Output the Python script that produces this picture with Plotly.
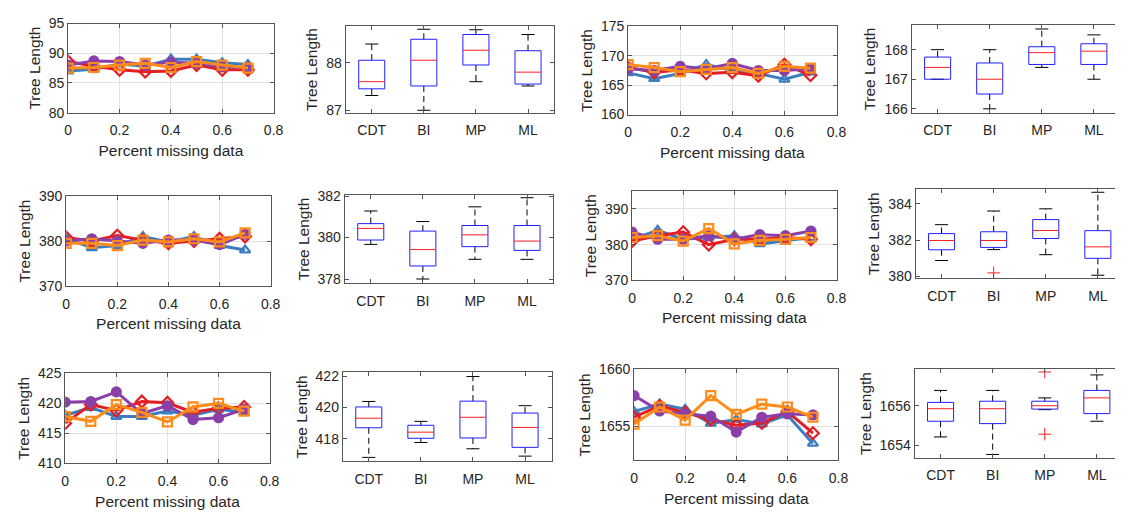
import plotly.graph_objects as go

# ---------------- data ----------------
x_missing = [0, 0.1, 0.2, 0.3, 0.4, 0.5, 0.6, 0.7]
x_ticks = [0, 0.2, 0.4, 0.6, 0.8]
x_ticktext = ["0", "0.2", "0.4", "0.6", "0.8"]
methods = ["CDT", "BI", "MP", "ML"]

# Dataset 1 (row 1, left)
d1_blue = [87.0, 87.3, 88.2, 87.8, 89.0, 89.0, 88.4, 88.1]
d1_red = [88.6, 87.8, 87.2, 86.9, 87.0, 88.0, 87.2, 87.2]
d1_purple = [88.0, 88.7, 88.6, 88.0, 88.5, 88.3, 87.7, 87.6]
d1_orange = [87.5, 87.6, 88.0, 88.3, 87.6, 88.6, 88.0, 87.5]
b1_lower = [87.31, 87.0, 87.60, 87.51]
b1_q1 = [87.45, 87.51, 87.95, 87.55]
b1_med = [87.60, 88.05, 88.26, 87.80]
b1_q3 = [88.05, 88.49, 88.59, 88.25]
b1_upper = [88.39, 88.70, 88.69, 88.59]
b1_out_cat = []
b1_out_val = []

# Dataset 2 (row 1, right)
d2_blue = [167.1, 166.1, 167.0, 168.5, 167.5, 167.0, 166.0, 167.2]
d2_red = [168.0, 167.2, 167.6, 167.0, 167.2, 166.6, 168.5, 166.7]
d2_purple = [167.8, 167.5, 168.2, 167.8, 168.7, 167.5, 167.5, 167.8]
d2_orange = [168.5, 168.0, 167.3, 167.7, 168.0, 167.0, 168.2, 167.9]
b2_lower = [167.0, 166.0, 167.4, 167.0]
b2_q1 = [167.0, 166.5, 167.5, 167.5]
b2_med = [167.4, 167.0, 167.9, 167.95]
b2_q3 = [167.75, 167.55, 168.1, 168.2]
b2_upper = [168.0, 168.0, 168.7, 168.5]
b2_out_cat = []
b2_out_val = []

# Dataset 3 (row 2, left)
d3_blue = [380.5, 378.5, 379.0, 381.0, 379.8, 381.0, 379.0, 378.0]
d3_red = [380.8, 380.0, 381.2, 380.2, 379.5, 380.0, 380.5, 381.0]
d3_purple = [380.0, 380.5, 380.0, 379.5, 380.2, 380.2, 379.2, 381.5]
d3_orange = [379.5, 379.5, 379.0, 380.2, 379.8, 380.5, 379.8, 381.8]
b3_lower = [379.67, 378.0, 378.95, 378.95]
b3_q1 = [379.88, 378.63, 379.56, 379.38]
b3_med = [380.44, 379.42, 380.13, 379.83]
b3_q3 = [380.67, 380.31, 380.58, 380.58]
b3_upper = [381.28, 380.77, 381.48, 381.92]
b3_out_cat = []
b3_out_val = []

# Dataset 4 (row 2, right)
d4_blue = [381.5, 384.0, 381.5, 382.0, 382.5, 380.2, 381.0, 382.0]
d4_red = [381.0, 382.5, 383.5, 380.0, 381.5, 381.5, 382.0, 381.5]
d4_purple = [383.5, 381.5, 381.5, 382.5, 381.5, 382.8, 382.5, 383.8]
d4_orange = [382.0, 382.5, 381.0, 384.5, 380.2, 381.2, 381.5, 382.0]
b4_lower = [380.88, 381.48, 381.2, 380.07]
b4_q1 = [381.47, 381.6, 382.09, 381.0]
b4_med = [381.98, 381.98, 382.53, 381.63]
b4_q3 = [382.36, 382.46, 383.13, 382.52]
b4_upper = [382.85, 383.6, 383.72, 384.63]
b4_out_cat = ["BI"]
b4_out_val = [380.2]

# Dataset 5 (row 3, left)
d5_blue = [418.0, 419.3, 417.8, 417.8, 418.7, 418.0, 419.0, 418.5]
d5_red = [416.7, 419.8, 418.8, 420.3, 420.1, 418.5, 419.2, 419.4]
d5_purple = [420.2, 420.3, 421.9, 418.3, 419.6, 417.3, 417.6, 419.0]
d5_orange = [417.8, 417.0, 419.8, 418.5, 416.9, 419.4, 420.0, 418.7]
b5_lower = [416.82, 417.77, 417.37, 416.9]
b5_q1 = [418.71, 418.04, 418.06, 417.46]
b5_med = [419.32, 418.43, 419.38, 418.73]
b5_q3 = [420.04, 418.87, 420.41, 419.65]
b5_upper = [420.39, 419.12, 421.98, 420.12]
b5_out_cat = []
b5_out_val = []

# Dataset 6 (row 3, right)
d6_blue = [1656.3, 1656.95, 1656.5, 1655.25, 1655.6, 1655.2, 1656.0, 1653.5]
d6_red = [1655.8, 1656.8, 1656.2, 1655.6, 1655.1, 1655.3, 1656.3, 1654.4]
d6_purple = [1657.7, 1656.35, 1656.1, 1655.9, 1654.5, 1655.8, 1656.1, 1656.0]
d6_orange = [1655.2, 1656.7, 1655.55, 1657.7, 1656.05, 1656.95, 1656.7, 1655.8]
b6_lower = [1654.41, 1653.52, 1655.8, 1655.21]
b6_q1 = [1655.21, 1655.09, 1655.83, 1655.6]
b6_med = [1655.85, 1655.85, 1656.0, 1656.4]
b6_q3 = [1656.17, 1656.23, 1656.23, 1656.78]
b6_upper = [1656.78, 1656.78, 1656.4, 1657.57]
b6_out_cat = ["MP", "MP"]
b6_out_val = [1657.72, 1654.55]

# axis ranges / ticks
r1_line = [80, 95]; t1_line = [80, 85, 90, 95]
r1_box = [86.95, 88.76]; t1_box = [87, 88]
r2_line = [160, 175]; t2_line = [160, 165, 170, 175]
r2_box = [165.87, 168.82]; t2_box = [166, 167, 168]
r3_line = [370, 390]; t3_line = [370, 380, 390]
r3_box = [377.8, 382.05]; t3_box = [378, 380, 382]
r4_line = [370, 395]; t4_line = [370, 380, 390]
r4_box = [379.9, 384.8]; t4_box = [380, 382, 384]
r5_line = [410, 425]; t5_line = [410, 415, 420, 425]
r5_box = [416.56, 422.25]; t5_box = [418, 420, 422]
r6_line = [1652, 1660]; t6_line = [1655, 1660]
r6_box = [1653.36, 1657.85]; t6_box = [1654, 1656]

# ---------------- styling ----------------
W, H = 1125, 515
FONT = "Liberation Sans, Arial, Helvetica, sans-serif"
TXT = "#262626"
AX = "#555555"
C_BLUE = "#3C7DBF"
C_RED = "#E31E24"
C_PURPLE = "#8B3FA8"
C_ORANGE = "#FF8C1A"
TITLE_SIZE = 15.5
TICK_SIZE = 14

series_style = [
    (C_BLUE, "triangle-up-open"),
    (C_RED, "diamond-open"),
    (C_PURPLE, "circle"),
    (C_ORANGE, "square-open"),
]

# pixel boxes (left, right, top, bottom)
panels = [
    ("line", (65, 273, 16, 108), [d1_blue, d1_red, d1_purple, d1_orange], r1_line, t1_line),
    ("box", (346, 557, 19, 108), (b1_lower, b1_q1, b1_med, b1_q3, b1_upper, b1_out_cat, b1_out_val), r1_box, t1_box),
    ("line", (632, 843, 19, 110), [d2_blue, d2_red, d2_purple, d2_orange], r2_line, t2_line),
    ("box", (919, 1125, 18, 108), (b2_lower, b2_q1, b2_med, b2_q3, b2_upper, b2_out_cat, b2_out_val), r2_box, t2_box),
    ("line", (63, 270, 194, 287), [d3_blue, d3_red, d3_purple, d3_orange], r3_line, t3_line),
    ("box", (345, 556, 193, 284), (b3_lower, b3_q1, b3_med, b3_q3, b3_upper, b3_out_cat, b3_out_val), r3_box, t3_box),
    ("line", (636, 843, 189, 281), [d4_blue, d4_red, d4_purple, d4_orange], r4_line, t4_line),
    ("box", (923, 1125, 187, 279), (b4_lower, b4_q1, b4_med, b4_q3, b4_upper, b4_out_cat, b4_out_val), r4_box, t4_box),
    ("line", (62, 269, 377, 470), [d5_blue, d5_red, d5_purple, d5_orange], r5_line, t5_line),
    ("box", (343, 555, 376, 468), (b5_lower, b5_q1, b5_med, b5_q3, b5_upper, b5_out_cat, b5_out_val), r5_box, t5_box),
    ("line", (638, 845, 373, 467), [d6_blue, d6_red, d6_purple, d6_orange], r6_line, t6_line),
    ("box", (922, 1125, 373, 464), (b6_lower, b6_q1, b6_med, b6_q3, b6_upper, b6_out_cat, b6_out_val), r6_box, t6_box),
]

BOX_PX_PER_CAT = 52.75
BOX_HALF = 0.25
CAP_HALF = 0.125

fig = go.Figure()
layout = dict(
    width=W, height=H,
    margin=dict(l=0, r=0, t=0, b=0),
    paper_bgcolor="white", plot_bgcolor="white",
    showlegend=False,
    font=dict(family=FONT, size=TICK_SIZE, color=TXT),
)

for k, (kind, (l, r, t, b), data, yr, yt) in enumerate(panels, start=1):
    xa = "x" if k == 1 else f"x{k}"
    ya = "y" if k == 1 else f"y{k}"
    xkey = "xaxis" if k == 1 else f"xaxis{k}"
    ykey = "yaxis" if k == 1 else f"yaxis{k}"
    axis_common = dict(
        showline=True, linecolor=AX, linewidth=1,
        ticks="inside", ticklen=4, tickcolor=AX, tickwidth=1,
        zeroline=False, tickfont=dict(family=FONT, size=TICK_SIZE, color=TXT),
    )
    ytitle = dict(text="Tree Length", standoff=4,
                  font=dict(family=FONT, size=TITLE_SIZE, color=TXT))
    if kind == "line":
        for series, (col, sym) in zip(data, series_style):
            fig.add_trace(go.Scatter(
                x=x_missing, y=series, mode="lines+markers",
                line=dict(color=col, width=3),
                marker=dict(symbol=sym, size=9, color=col,
                            line=dict(color=col, width=2.2)),
                xaxis=xa, yaxis=ya, cliponaxis=True,
            ))
        layout[xkey] = dict(
            axis_common, domain=[l / W, r / W], anchor=ya, range=[0, 0.8],
            tickvals=x_ticks, ticktext=x_ticktext, mirror="ticks",
            ticklabelstandoff=5,
            showgrid=True, gridcolor="#E2E2E2",
            title=dict(text="Percent missing data", standoff=7,
                       font=dict(family=FONT, size=TITLE_SIZE, color=TXT)),
        )
        layout[ykey] = dict(
            axis_common, domain=[1 - b / H, 1 - t / H], anchor=xa, range=yr,
            tickvals=yt, mirror="ticks", showgrid=True, gridcolor="#E2E2E2",
            title=ytitle,
        )
    else:
        lo, q1, med, q3, up, oc, ov = data
        pos = list(range(1, len(methods) + 1))
        bx, by, mx, my, wx, wy, cx, cy = [], [], [], [], [], [], [], []
        for p, a, b1, m, c, d in zip(pos, lo, q1, med, q3, up):
            bx += [p - BOX_HALF, p + BOX_HALF, p + BOX_HALF, p - BOX_HALF, p - BOX_HALF, None]
            by += [b1, b1, c, c, b1, None]
            mx += [p - BOX_HALF, p + BOX_HALF, None]
            my += [m, m, None]
            wx += [p, p, None, p, p, None]
            wy += [c, d, None, b1, a, None]
            cx += [p - CAP_HALF, p + CAP_HALF, None, p - CAP_HALF, p + CAP_HALF, None]
            cy += [d, d, None, a, a, None]
        fig.add_trace(go.Scatter(x=wx, y=wy, mode="lines",
                                 line=dict(color="black", width=1, dash="6px,4px"),
                                 xaxis=xa, yaxis=ya))
        fig.add_trace(go.Scatter(x=cx, y=cy, mode="lines",
                                 line=dict(color="black", width=1),
                                 xaxis=xa, yaxis=ya))
        fig.add_trace(go.Scatter(x=bx, y=by, mode="lines",
                                 line=dict(color="#2020FF", width=1),
                                 xaxis=xa, yaxis=ya))
        fig.add_trace(go.Scatter(x=mx, y=my, mode="lines",
                                 line=dict(color="#FF2020", width=1),
                                 xaxis=xa, yaxis=ya))
        if ov:
            fig.add_trace(go.Scatter(
                x=[methods.index(c) + 1 for c in oc], y=ov, mode="markers",
                marker=dict(symbol="cross-thin-open", size=9, color="#FF2020",
                            line=dict(color="#FF2020", width=1)),
                xaxis=xa, yaxis=ya))
        cut = r >= W
        xmax = 0.5 + (r - l) / BOX_PX_PER_CAT
        layout[xkey] = dict(
            axis_common, domain=[l / W, r / W], anchor=ya, range=[0.5, xmax],
            tickvals=pos, ticktext=methods, mirror="ticks", showgrid=False,
            ticklabelstandoff=5,
        )
        layout[ykey] = dict(
            axis_common, domain=[1 - b / H, 1 - t / H], anchor=xa, range=yr,
            tickvals=yt, mirror=False if cut else "ticks", showgrid=False,
            title=ytitle,
        )

fig.update_layout(**layout)
fig.write_html(
    "out.html",
    config={"displayModeBar": False},
    post_script="document.body.style.margin='0';document.body.style.overflow='hidden';",
)
